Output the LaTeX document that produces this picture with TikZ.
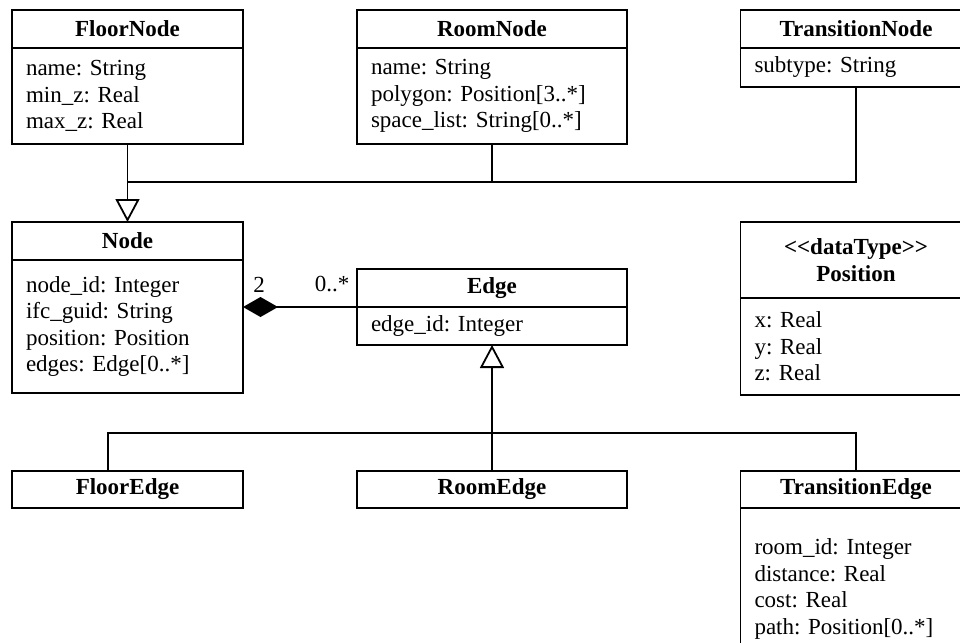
\documentclass[tikz,border=0pt]{standalone}
\usepackage{fontspec}
\setmainfont{Liberation Serif}
\usetikzlibrary{positioning,arrows.meta}
\frenchspacing

\begin{document}
\begin{tikzpicture}[x=1pt,y=-1pt,
    every node/.style={font=\fontsize{23}{26.5}\selectfont, outer sep=0pt},
    classhead/.style={draw, line width=1.8pt, font=\fontsize{23}{26.5}\selectfont\bfseries,
        align=center, inner sep=0pt, minimum height=38pt},
    classbody/.style={draw, line width=1.8pt, align=left, inner xsep=14pt, inner ysep=0pt},
    wide/.style={minimum width=270pt, text width=242pt},
    narrow/.style={minimum width=231pt, text width=203pt},
    link/.style={line width=1.8pt},
    gen/.style={link, -{Triangle[open, length=23pt, width=24pt]}},
    comp/.style={link, {Diamond[length=35pt, width=20pt]}-}]
    \useasboundingbox (0,0) rectangle (960,642);

    % node classes
    \node[classhead, narrow] (floorh) at (127.5,29) {FloorNode};
    \node[classbody, narrow, minimum height=96pt, below=0pt of floorh] (floorb)
        {name: String\\min\_z: Real\\max\_z: Real};
    \node[classhead, wide] (roomh) at (492,29) {RoomNode};
    \node[classbody, wide, minimum height=96pt, below=0pt of roomh] (roomb)
        {name: String\\polygon: Position[3..*]\\space\_list: String[0..*]};
    \node[classhead, narrow] (transh) at (856,29) {TransitionNode};
    \node[classbody, narrow, minimum height=39pt, below=0pt of transh] (transb)
        {subtype: String};

    \node[classhead, narrow] (nodeh) at (127.5,241) {Node};
    \node[classbody, narrow, minimum height=133pt, below=0pt of nodeh] (nodeb)
        {node\_id: Integer\\ifc\_guid: String\\position: Position\\edges: Edge[0..*]};
    \node[classhead, wide] (edgeh) at (492,288) {Edge};
    \node[classbody, wide, minimum height=38pt, below=0pt of edgeh] (edgeb)
        {edge\_id: Integer};
    \node[classhead, narrow, minimum height=76pt] (posh) at (856,260)
        {<\kern0pt<dataType>\kern0pt>\\Position};
    \node[classbody, narrow, minimum height=97pt, below=0pt of posh] (posb)
        {x: Real\\y: Real\\z: Real};

    % edge classes
    \node[classhead, narrow, minimum height=37pt] (fedgeh) at (127.5,489.5) {FloorEdge};
    \node[classhead, wide, minimum height=37pt] (redgeh) at (492,489.5) {RoomEdge};
    \node[classhead, narrow, minimum height=37pt] (tedgeh) at (856,489.5) {TransitionEdge};
    \node[classbody, narrow, minimum height=162pt, below=0pt of tedgeh] (tedgeb)
        {room\_id: Integer\\distance: Real\\cost: Real\\path: Position[0..*]};

    % generalisation of the nodes
    \coordinate (njoint) at (127.5,182);
    \draw[gen] (floorb.south) -- (nodeh.north);
    \draw[link] (roomb.south) |- (njoint);
    \draw[link] (transb.south) |- (njoint);

    % generalisation of the edges
    \coordinate (ejoint) at (108,433);
    \draw[gen] (redgeh.north) -- (edgeb.south);
    \draw[link] (ejoint |- fedgeh.north) -- (ejoint) -| (tedgeh.north);

    % composition
    \draw[comp] (nodeb.east |- edgeb.north west) -- (edgeb.north west);
    \node[inner sep=0pt] (mult2) at (259,285) {2};
    \node[inner sep=0pt] (multn) at (332,284) {0..*};
\end{tikzpicture}
\end{document}
